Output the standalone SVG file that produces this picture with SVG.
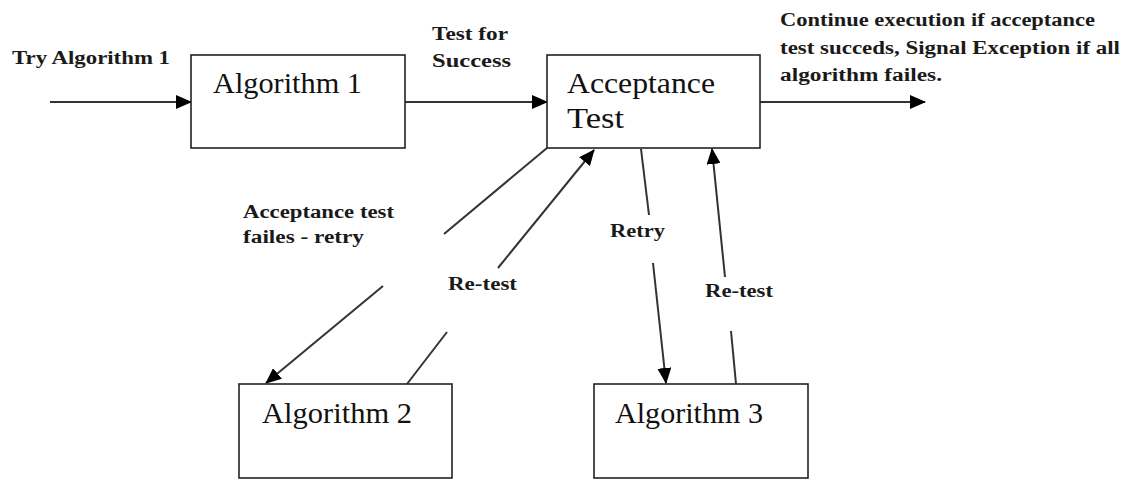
<svg xmlns="http://www.w3.org/2000/svg" width="1125" height="479" viewBox="0 0 1125 479">
<style>
.box{fill:#fff;stroke:#222;stroke-width:1.6}
.ln{stroke:#333;stroke-width:2;fill:none}
.big{font-family:"Liberation Serif",serif;font-size:30px;fill:#111}
.lb{font-family:"Liberation Serif",serif;font-size:18px;font-weight:bold;fill:#1a1a1a}
</style>
<defs>
<marker id="ah" markerUnits="userSpaceOnUse" markerWidth="16" markerHeight="14" refX="15" refY="7" orient="auto">
<path d="M0,0 L16,7 L0,14 z" fill="#000"/>
</marker>
</defs>
<rect width="1125" height="479" fill="#fff"/>
<g id="connectors">
<line class="ln" x1="50" y1="102" x2="191" y2="102" marker-end="url(#ah)"/>
<line class="ln" x1="405" y1="102" x2="547" y2="102" marker-end="url(#ah)"/>
<line class="ln" x1="760" y1="102" x2="925" y2="102" marker-end="url(#ah)"/>
<line class="ln" x1="547" y1="148" x2="444" y2="234"/>
<line class="ln" x1="383" y1="286" x2="266" y2="383" marker-end="url(#ah)"/>
<line class="ln" x1="407" y1="384" x2="447" y2="332"/>
<line class="ln" x1="498" y1="268" x2="594" y2="150" marker-end="url(#ah)"/>
<line class="ln" x1="641" y1="149" x2="649" y2="215"/>
<line class="ln" x1="653" y1="263" x2="666" y2="383" marker-end="url(#ah)"/>
<line class="ln" x1="736" y1="384" x2="731" y2="331"/>
<line class="ln" x1="725" y1="277" x2="712" y2="149" marker-end="url(#ah)"/>
</g>
<g id="algorithm1">
<rect class="box" x="191" y="55" width="214" height="93"/>
<text class="big" x="213" y="93" textLength="149" lengthAdjust="spacingAndGlyphs">Algorithm 1</text>
</g>
<g id="acceptance-test">
<rect class="box" x="547" y="55" width="213" height="93"/>
<text class="big" x="567" y="93" textLength="148" lengthAdjust="spacingAndGlyphs">Acceptance</text>
<text class="big" x="567" y="128" textLength="57" lengthAdjust="spacingAndGlyphs">Test</text>
</g>
<g id="algorithm2">
<rect class="box" x="239" y="384" width="213" height="94"/>
<text class="big" x="262" y="423" textLength="150" lengthAdjust="spacingAndGlyphs">Algorithm 2</text>
</g>
<g id="algorithm3">
<rect class="box" x="594" y="384" width="214" height="94"/>
<text class="big" x="615" y="423" textLength="148" lengthAdjust="spacingAndGlyphs">Algorithm 3</text>
</g>
<g id="labels">
<text class="lb" x="12" y="64" textLength="158" lengthAdjust="spacingAndGlyphs">Try Algorithm 1</text>
<text class="lb" x="432" y="40" textLength="76" lengthAdjust="spacingAndGlyphs">Test for</text>
<text class="lb" x="432" y="67" textLength="79" lengthAdjust="spacingAndGlyphs">Success</text>
<text class="lb" x="780" y="26" textLength="315" lengthAdjust="spacingAndGlyphs">Continue execution if acceptance</text>
<text class="lb" x="780" y="54" textLength="340" lengthAdjust="spacingAndGlyphs">test succeds, Signal Exception if all</text>
<text class="lb" x="780" y="81" textLength="162" lengthAdjust="spacingAndGlyphs">algorithm failes.</text>
<text class="lb" x="243" y="218" textLength="151" lengthAdjust="spacingAndGlyphs">Acceptance test</text>
<text class="lb" x="243" y="243" textLength="121" lengthAdjust="spacingAndGlyphs">failes - retry</text>
<text class="lb" x="448" y="290" textLength="69" lengthAdjust="spacingAndGlyphs">Re-test</text>
<text class="lb" x="610" y="237" textLength="55" lengthAdjust="spacingAndGlyphs">Retry</text>
<text class="lb" x="705" y="297" textLength="68" lengthAdjust="spacingAndGlyphs">Re-test</text>
</g>
</svg>
